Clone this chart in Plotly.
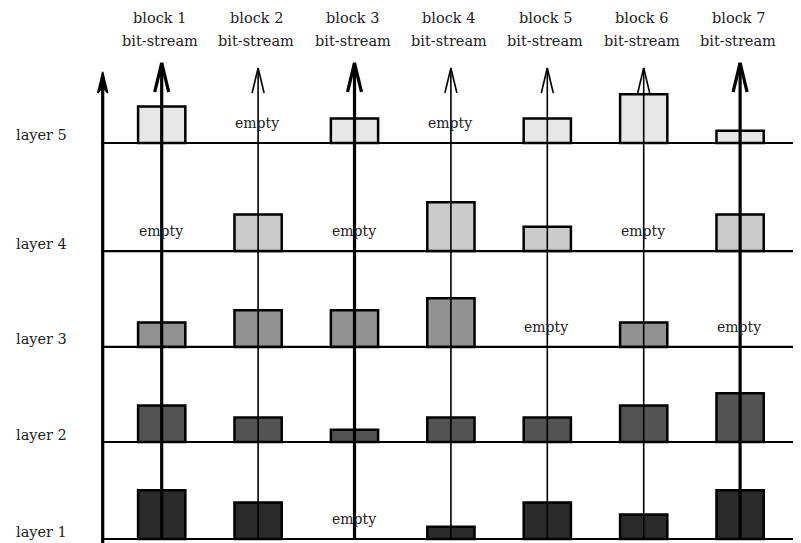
import plotly.graph_objects as go

# ---- data ----
blocks = ["block 1", "block 2", "block 3", "block 4", "block 5", "block 6", "block 7"]
layers = ["layer 1", "layer 2", "layer 3", "layer 4", "layer 5"]
layer1 = [4, 3, 0, 1, 3, 2, 4]
layer2 = [3, 2, 1, 2, 2, 3, 4]
layer3 = [2, 3, 3, 4, 0, 2, 0]
layer4 = [0, 3, 0, 4, 2, 0, 3]
layer5 = [3, 0, 2, 0, 2, 4, 1]
series = [layer1, layer2, layer3, layer4, layer5]

# ---- layout / style ----
OFF = 8                      # page body margin of the browser
W, H = 801 - OFF, 543 - OFF  # figure size so the page fits the window
PXX = 96.4      # pixels per block
PXY = 12.2      # pixels per unit
X0PX = 161.7 - OFF   # figure pixel of block 1
Y0PX = 539 - OFF     # figure pixel of bottom baseline
baselines = [0, 7.95, 15.74, 23.6, 32.46]
colors = ["#2a2a2a", "#535353", "#929292", "#cbcbcb", "#e6e6e6"]
thick = [True, False, True, False, False, False, True]
FONT = "DejaVu Serif"
TXT = "#222"


def dx(px):
    return px / PXX


def dy(px):
    return px / PXY


def ypix(p):  # reference pixel (from top) -> data y
    return (Y0PX - (p - OFF)) / PXY


def xpix(p):  # reference pixel (from left) -> data x
    return 1 + ((p - OFF) - X0PX) / PXX


xs = list(range(1, len(blocks) + 1))
xr = [1 - X0PX / PXX, 1 + (W - X0PX) / PXX]
yr = [-(H - Y0PX) / PXY, Y0PX / PXY]
xleft = xpix(102.7)
xline0 = xpix(101)

fig = go.Figure()
for i, vals in enumerate(series):
    fig.add_trace(go.Bar(
        x=xs,
        y=[v if v > 0 else None for v in vals],
        base=baselines[i],
        width=0.49,
        marker=dict(color=colors[i], line=dict(color="black", width=2.5)),
        name=layers[i],
        showlegend=False,
        hoverinfo="skip",
    ))

shapes = []
annotations = []
# horizontal baselines
for b in baselines:
    shapes.append(dict(type="line", xref="x", yref="y", x0=xline0, x1=xr[1],
                       y0=b, y1=b, line=dict(color="black", width=2.2)))
# left axis with filled head
ltip = ypix(72)
shapes.append(dict(type="line", xref="x", yref="y", x0=xleft, x1=xleft,
                   y0=yr[0], y1=ltip - dy(6), line=dict(color="black", width=3.2)))
shapes.append(dict(type="path", xref="x", yref="y",
                   path=f"M {xleft - dx(5)},{ltip - dy(21)} L {xleft},{ltip} L {xleft + dx(5)},{ltip - dy(21)} L {xleft},{ltip - dy(15)} Z",
                   fillcolor="black", line=dict(color="black", width=1.5)))
# block arrows and labels
for i, x in enumerate(xs):
    if thick[i]:
        tip, hw, hl, lw = ypix(63), dx(7), dy(29), 3.2
    else:
        tip, hw, hl, lw = ypix(68), dx(6), dy(25), 1.6
    shapes.append(dict(type="line", xref="x", yref="y", x0=x, x1=x,
                       y0=0, y1=tip, line=dict(color="black", width=lw)))
    shapes.append(dict(type="path", xref="x", yref="y",
                       path=f"M {x - hw},{tip - hl} L {x},{tip} L {x + hw},{tip - hl}",
                       line=dict(color="black", width=lw)))
    annotations.append(dict(x=x - dx(2), y=ypix(18), xref="x", yref="y",
                            xanchor="center", yanchor="middle",
                            text=blocks[i], showarrow=False, borderpad=0,
                            font=dict(family=FONT, size=14.5, color=TXT)))
    annotations.append(dict(x=x - dx(2), y=ypix(41), xref="x", yref="y",
                            xanchor="center", yanchor="middle",
                            text="bit-stream", showarrow=False, borderpad=0,
                            font=dict(family=FONT, size=14.5, color=TXT)))

# empty labels
for i, vals in enumerate(series):
    for j, v in enumerate(vals):
        if v == 0:
            annotations.append(dict(x=xs[j] - dx(1), y=baselines[i] + dy(20), xref="x", yref="y",
                                    xanchor="center", yanchor="middle",
                                    text="empty", showarrow=False,
                                    font=dict(family=FONT, size=14, color=TXT)))
# layer labels
for i, name in enumerate(layers):
    annotations.append(dict(x=xpix(41), y=baselines[i] + dy(7.5), xref="x", yref="y",
                            xanchor="center", yanchor="middle",
                            text=name, showarrow=False,
                            font=dict(family=FONT, size=14.5, color=TXT)))

fig.update_layout(
    width=W, height=H,
    margin=dict(l=0, r=0, t=0, b=0),
    paper_bgcolor="white", plot_bgcolor="white",
    barmode="overlay",
    xaxis=dict(range=xr, visible=False, fixedrange=True),
    yaxis=dict(range=yr, visible=False, fixedrange=True),
    shapes=shapes,
    annotations=annotations,
)
fig.write_html("out.html")
